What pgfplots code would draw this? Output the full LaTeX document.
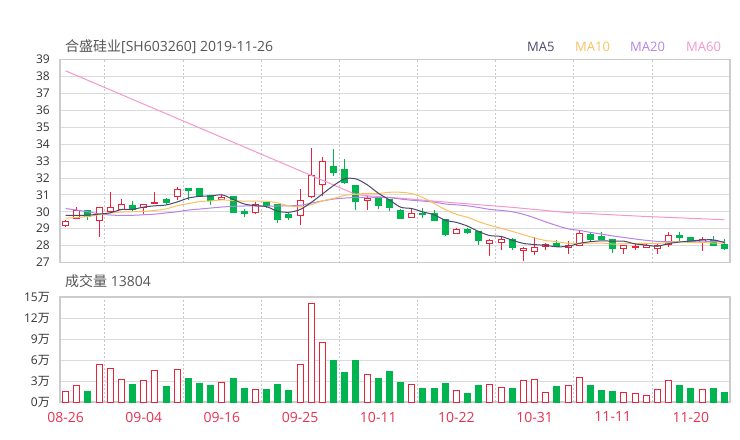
\documentclass[border=0pt]{standalone}
\usepackage{fontspec}
\setmainfont{Open Sans}
\newfontfamily\cjk{Noto Sans CJK SC}
\usepackage{pgfplots}
\pgfplotsset{compat=1.18}
\usepackage{pgfplotstable}

\definecolor{candred}{RGB}{232,35,60}
\definecolor{candgreen}{RGB}{0,180,80}
\definecolor{maA}{RGB}{74,72,108}
\definecolor{maB}{RGB}{250,192,95}
\definecolor{maC}{RGB}{182,131,232}
\definecolor{maD}{RGB}{245,150,205}
\definecolor{txt}{RGB}{85,85,85}
\definecolor{tickc}{RGB}{51,51,51}
\definecolor{datered}{RGB}{232,50,80}

% up (red) candles: x open close high low volume(10k)
\pgfplotstableread{
x o c h l v
0 29.21 29.41 29.53 29.09 1.48
1 29.61 30.08 30.28 29.59 2.39
3 29.51 30.24 30.28 28.52 5.40
4 30.04 30.26 31.19 30.00 4.78
5 30.16 30.40 30.77 30.12 3.20
7 30.28 30.40 30.42 29.85 3.01
8 30.51 30.56 31.15 30.46 4.54
10 30.89 31.31 31.45 30.72 4.68
14 30.70 30.87 31.07 30.68 2.77
17 29.96 30.40 30.60 29.89 1.82
21 29.75 30.68 31.35 29.21 5.30
22 30.89 32.14 33.74 30.79 14.09
23 31.60 32.95 33.23 30.91 8.46
27 30.64 30.81 30.91 30.12 3.97
31 29.67 29.89 30.16 29.65 2.44
35 28.72 28.96 29.02 28.66 1.62
38 28.13 28.28 28.38 27.36 2.53
39 28.21 28.38 28.50 27.71 2.05
41 27.71 27.85 27.91 27.06 3.11
42 27.63 27.91 28.50 27.45 3.25
43 27.93 28.05 28.15 27.75 1.34
45 27.91 28.03 28.25 27.51 2.34
46 27.99 28.72 28.90 27.95 3.49
50 27.81 28.03 28.05 27.51 1.34
51 27.89 27.93 28.13 27.75 1.24
52 27.89 28.03 28.11 27.83 0.96
53 27.81 27.99 28.11 27.49 1.82
54 28.07 28.62 28.82 27.91 3.11
57 28.19 28.36 28.50 27.69 1.82
}\upT

% down (green) candles
\pgfplotstableread{
x o c h l v
2 30.08 29.69 30.08 29.51 1.43
6 30.36 30.12 30.66 30.04 2.53
9 30.72 30.52 30.79 30.40 2.20
11 31.35 31.25 31.37 30.72 3.30
12 31.37 30.91 31.41 30.91 2.58
13 30.95 30.68 30.97 30.40 2.39
15 30.91 29.96 30.95 29.96 3.39
16 30.00 29.88 30.16 29.67 1.86
18 30.52 30.38 30.56 30.22 1.72
19 30.42 29.53 30.46 29.33 2.53
20 29.81 29.65 29.91 29.53 1.58
24 32.69 32.34 33.68 32.10 5.88
25 32.51 31.70 33.11 31.62 4.25
26 31.57 30.62 31.60 30.10 5.88
28 30.87 30.38 30.87 30.18 3.30
29 30.72 30.24 30.72 30.04 4.30
30 30.10 29.61 30.16 29.55 2.77
32 29.91 29.85 30.20 29.61 1.91
33 29.89 29.49 30.12 29.45 1.91
34 29.53 28.66 29.53 28.58 2.58
36 28.98 28.78 29.06 28.66 1.24
37 28.82 28.28 28.85 28.05 2.39
40 28.36 27.87 28.42 27.71 1.96
44 28.15 27.95 28.34 27.93 2.15
47 28.66 28.38 28.82 28.28 2.29
48 28.56 28.34 28.82 28.34 1.62
49 28.38 27.81 28.38 27.55 1.53
55 28.62 28.50 28.82 28.23 2.29
56 28.46 28.19 28.50 28.15 1.86
58 28.30 28.03 28.54 27.95 1.86
59 28.07 27.83 28.36 27.75 1.39
}\downT

\pgfplotsset{
  basex/.style={scale only axis, width=670bp, xmin=-0.5, xmax=59.5},
  price/.style={basex, height=203bp, ymin=27, ymax=39, at={(60bp,-59.5bp)}, anchor=north west},
  vol/.style={basex, height=105bp, ymin=0, ymax=15, at={(60bp,-297bp)}, anchor=north west},
  frame/.style={
    axis line style={draw=black!20, line width=1.2bp},
    major tick length=0, minor tick length=0,
    minor xtick={3.5,10.5,...,52.5},
    ymajorgrids, xminorgrids,
    major grid style={draw=black!14, line width=0.8bp},
    minor grid style={draw=black!22, line width=0.6bp, dash pattern=on 2bp off 2bp},
    yticklabel style={font=\fontsize{12bp}{14bp}\selectfont, text=tickc, anchor=east, inner sep=0pt, xshift=-10bp},
    /pgf/number format/assume math mode=true,
  },
  wick/.style={only marks, mark=*, mark size=0pt, mark options={draw=none, fill=none},
    error bars/.cd, y dir=plus, y explicit, error mark=none,
    error bar style={line width=1bp, #1}},
}

\begin{document}
\begin{tikzpicture}
\path[use as bounding box] (0,0) rectangle (740bp,-440bp);

% ---------- price panel: frame, grid, wicks
\begin{axis}[price, frame,
  xtick={0,7,...,56}, xticklabel=\empty,
  ytick={27,28,...,39},
]
\addplot[candred, wick=candred]
  table[x=x, y=l, y error expr=\thisrow{h}-\thisrow{l}] {\upT};
\addplot[candgreen, wick=candgreen]
  table[x=x, y=l, y error expr=\thisrow{h}-\thisrow{l}] {\downT};
\end{axis}

% ---------- up bodies
\begin{axis}[price, hide axis, ybar stacked, bar width=6bp]
\addplot[draw=none, fill=none] table[x=x, y=o] {\upT};
\addplot[draw=candred, fill=white, line width=1bp] table[x=x, y expr=\thisrow{c}-\thisrow{o}] {\upT};
\end{axis}

% ---------- down bodies
\begin{axis}[price, hide axis, ybar stacked, bar width=6bp]
\addplot[draw=none, fill=none] table[x=x, y=c] {\downT};
\addplot[draw=candgreen, fill=candgreen, line width=1bp] table[x=x, y expr=\thisrow{o}-\thisrow{c}] {\downT};
\end{axis}

% ---------- moving averages
\begin{axis}[price, hide axis]
\addplot[maD, line width=1bp, no marks] coordinates {
(0,38.33) (26,31.02) (27,30.95) (30,30.80) (35,30.52) (40,30.26) (45,29.95) (52,29.72) (59,29.53)};
\addplot[maC, line width=1bp, no marks, smooth] coordinates {
(0,30.19) (1,30.10) (2,30.00) (3,29.87) (4,29.81) (5,29.78) (6,29.79) (7,29.82) (8,29.86) (9,29.93)
(10,30.00) (11,30.10) (12,30.16) (13,30.22) (14,30.28) (15,30.32) (16,30.34) (17,30.34) (18,30.34) (19,30.34)
(20,30.35) (21,30.38) (22,30.51) (23,30.64) (24,30.75) (25,30.81) (26,30.84) (27,30.86) (28,30.85) (29,30.83)
(30,30.75) (31,30.68) (32,30.63) (33,30.57) (34,30.46) (35,30.41) (36,30.35) (37,30.25) (38,30.14) (39,30.08)
(40,30.00) (41,29.85) (42,29.64) (43,29.40) (44,29.18) (45,28.99) (46,28.90) (47,28.78) (48,28.68) (49,28.57)
(50,28.48) (51,28.39) (52,28.31) (53,28.25) (54,28.23) (55,28.23) (56,28.25) (57,28.26) (58,28.24) (59,28.21)};
\addplot[maB, line width=1bp, no marks, smooth] coordinates {
(0,29.62) (1,29.66) (2,29.72) (3,29.82) (4,29.92) (5,29.98) (6,30.00) (7,30.02) (8,30.08) (9,30.17)
(10,30.36) (11,30.48) (12,30.60) (13,30.64) (14,30.70) (15,30.66) (16,30.63) (17,30.63) (18,30.62) (19,30.52)
(20,30.35) (21,30.29) (22,30.42) (23,30.64) (24,30.79) (25,30.97) (26,31.04) (27,31.08) (28,31.08) (29,31.15)
(30,31.15) (31,31.07) (32,30.84) (33,30.49) (34,30.13) (35,29.85) (36,29.67) (37,29.41) (38,29.20) (39,29.02)
(40,28.84) (41,28.64) (42,28.45) (43,28.30) (44,28.23) (45,28.14) (46,28.13) (47,28.14) (48,28.15) (49,28.09)
(50,28.11) (51,28.12) (52,28.13) (53,28.12) (54,28.19) (55,28.24) (56,28.18) (57,28.18) (58,28.15) (59,28.15)};
\addplot[maA, line width=1bp, no marks, smooth] coordinates {
(0,29.79) (1,29.79) (2,29.80) (3,29.86) (4,29.94) (5,30.13) (6,30.14) (7,30.28) (8,30.35) (9,30.40)
(10,30.58) (11,30.81) (12,30.91) (13,30.93) (14,31.00) (15,30.73) (16,30.46) (17,30.36) (18,30.30) (19,30.03)
(20,29.97) (21,30.13) (22,30.55) (23,31.05) (24,31.55) (25,31.95) (26,31.94) (27,31.60) (28,31.10) (29,30.70)
(30,30.27) (31,30.19) (32,29.99) (33,29.82) (34,29.50) (35,29.37) (36,29.15) (37,28.83) (38,28.59) (39,28.54)
(40,28.32) (41,28.13) (42,28.06) (43,28.01) (44,27.93) (45,27.96) (46,28.13) (47,28.23) (48,28.28) (49,28.26)
(50,28.26) (51,28.10) (52,28.03) (53,27.96) (54,28.12) (55,28.21) (56,28.27) (57,28.33) (58,28.34) (59,28.18)};
\end{axis}

% ---------- volume panel
\begin{axis}[vol, frame,
  ybar, bar width=6bp, bar shift=0pt,
  xtick={0,7,...,56},
  xticklabels={08-26,09-04,09-16,09-25,10-11,10-22,10-31,11-11,11-20},
  xticklabel style={font=\fontsize{14bp}{16bp}\selectfont, text=datered, anchor=north, inner sep=0pt, yshift=-9.7bp},
  ytick={0,3,...,15},
  yticklabels={0{\cjk 万},3{\cjk 万},6{\cjk 万},9{\cjk 万},12{\cjk 万},15{\cjk 万}},
]
\addplot[bar shift=0pt, draw=candred, fill=white, line width=1bp] table[x=x, y=v] {\upT};
\addplot[bar shift=0pt, draw=candgreen, fill=candgreen, line width=1bp] table[x=x, y=v] {\downT};
\end{axis}

% ---------- texts
\node[anchor=west, inner sep=0pt, text=txt, font=\fontsize{14bp}{16bp}\selectfont]
  at (65bp,-46.5bp) {{\cjk 合盛硅业}[SH603260] 2019-11-26};
\node[anchor=west, inner sep=0pt, text=maA, font=\fontsize{13bp}{15bp}\selectfont] at (527bp,-46.5bp) {MA5};
\node[anchor=west, inner sep=0pt, text=maB, font=\fontsize{13bp}{15bp}\selectfont] at (575bp,-46.5bp) {MA10};
\node[anchor=west, inner sep=0pt, text=maC, font=\fontsize{13bp}{15bp}\selectfont] at (630bp,-46.5bp) {MA20};
\node[anchor=west, inner sep=0pt, text=maD, font=\fontsize{13bp}{15bp}\selectfont] at (686bp,-46.5bp) {MA60};
\node[anchor=west, inner sep=0pt, text=txt, font=\fontsize{14bp}{16bp}\selectfont]
  at (65bp,-281.5bp) {{\cjk 成交量} 13804};
\end{tikzpicture}
\end{document}
